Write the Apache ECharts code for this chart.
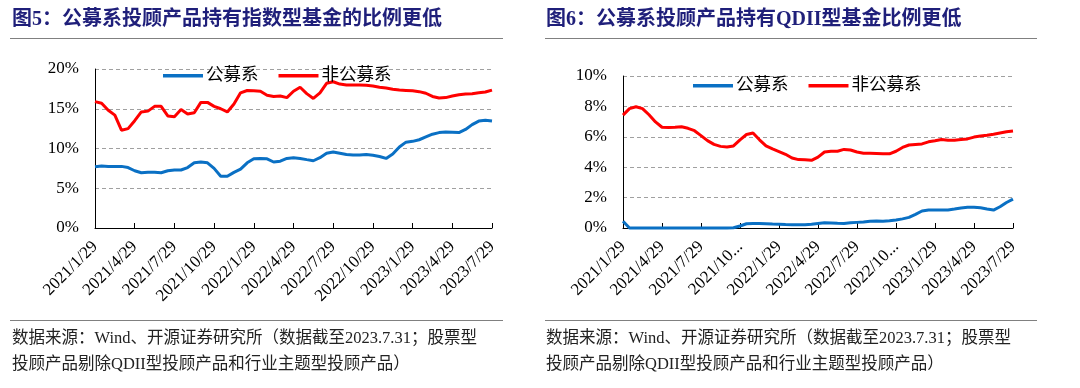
<!DOCTYPE html>
<html>
<head>
<meta charset="utf-8">
<script src="https://cdn.jsdelivr.net/npm/echarts@6/dist/echarts.min.js"></script>
<style>
html,body{margin:0;padding:0;background:#fff;}
#c{width:1080px;height:388px;}
</style>
</head>
<body>
<div id="c"></div>
<script>
// ---- data ----
const categories = [
 "2021/1/29","2021/2/13","2021/2/28","2021/3/14","2021/3/29","2021/4/13",
 "2021/4/29","2021/5/14","2021/5/29","2021/6/13","2021/6/29","2021/7/14",
 "2021/7/29","2021/8/13","2021/8/29","2021/9/13","2021/9/29","2021/10/14",
 "2021/10/29","2021/11/13","2021/11/29","2021/12/14","2021/12/29","2022/1/13",
 "2022/1/29","2022/2/13","2022/2/28","2022/3/14","2022/3/29","2022/4/13",
 "2022/4/29","2022/5/14","2022/5/29","2022/6/13","2022/6/29","2022/7/14",
 "2022/7/29","2022/8/13","2022/8/29","2022/9/13","2022/9/29","2022/10/14",
 "2022/10/29","2022/11/13","2022/11/29","2022/12/14","2022/12/29","2023/1/13",
 "2023/1/29","2023/2/13","2023/2/28","2023/3/14","2023/3/29","2023/4/13",
 "2023/4/29","2023/5/14","2023/5/29","2023/6/13","2023/6/29","2023/7/14",
 "2023/7/29"
];
const seriesNames = ["公募系", "非公募系"];

// Fig 5: share of index funds (%)
const idxPublic = [
 7.7,7.8,7.75,7.75,7.75,7.6,7.2,6.95,7.0,7.0,6.95,7.2,7.3,7.3,7.6,8.2,8.3,8.2,7.5,6.5,
 6.5,7.0,7.4,8.2,8.7,8.75,8.7,8.3,8.4,8.75,8.85,8.75,8.6,8.46,8.85,9.4,9.55,9.4,9.25,9.17,
 9.17,9.25,9.15,9.0,8.75,9.3,10.2,10.8,10.9,11.1,11.45,11.8,12.0,12.08,12.05,12.0,12.4,13.0,13.45,13.55,
 13.45
];
const idxNonPublic = [
 15.9,15.7,14.8,14.2,12.3,12.5,13.5,14.6,14.7,15.3,15.3,14.1,14.0,14.9,14.35,14.5,15.8,15.8,15.3,15.0,
 14.6,15.6,17.0,17.3,17.25,17.2,16.7,16.55,16.6,16.4,17.2,17.7,16.9,16.3,17.0,18.2,18.4,18.1,18.0,18.0,
 18.0,17.95,17.85,17.7,17.6,17.45,17.35,17.3,17.25,17.15,16.95,16.55,16.35,16.4,16.6,16.75,16.85,16.9,17.0,17.1,
 17.35
];
// Fig 6: share of QDII funds (%)
const qdiiPublic = [
 0.45,0.0,0.0,0.0,0.0,0.0,0.0,0.0,0.0,0.0,0.0,0.0,0.0,0.0,0.0,0.0,0.0,0.02,0.13,0.28,
 0.3,0.3,0.28,0.26,0.25,0.23,0.22,0.22,0.22,0.25,0.3,0.35,0.33,0.31,0.3,0.34,0.37,0.4,0.45,0.46,
 0.44,0.47,0.53,0.6,0.7,0.9,1.12,1.18,1.18,1.18,1.19,1.25,1.32,1.36,1.37,1.33,1.25,1.18,1.4,1.68,
 1.9
];
const qdiiNonPublic = [
 7.43,7.85,7.98,7.85,7.45,6.98,6.63,6.62,6.63,6.66,6.56,6.4,6.08,5.75,5.5,5.37,5.33,5.4,5.8,6.15,
 6.25,5.8,5.4,5.2,5.03,4.85,4.6,4.5,4.49,4.45,4.66,5.0,5.05,5.05,5.17,5.13,5.0,4.92,4.92,4.9,
 4.88,4.88,5.05,5.3,5.46,5.5,5.53,5.67,5.74,5.82,5.77,5.78,5.82,5.86,5.98,6.05,6.1,6.17,6.25,6.33,
 6.38
];

const title5 = "图5：公募系投顾产品持有指数型基金的比例更低";
const title6 = "图6：公募系投顾产品持有QDII型基金比例更低";
const source1 = "数据来源：Wind、开源证券研究所（数据截至2023.7.31；股票型";
const source2 = "投顾产品剔除QDII型投顾产品和行业主题型投顾产品）";

// ---- styling ----
const SERIF = '"Liberation Serif","Times New Roman","Noto Sans CJK SC",serif';
const CJK = '"Liberation Serif","Noto Sans CJK SC",sans-serif';
const BLUE = '#0a70c4';
const RED = '#ff0000';
const NAVY = '#1f1f7a';

function xAxis(gridIndex, truncate) {
  return {
    type: 'category', gridIndex, data: categories, boundaryGap: false,
    axisLine: {lineStyle: {color: '#000', width: 1}},
    axisTick: {show: true, inside: true, interval: 5, length: 5, lineStyle: {color: '#000'}},
    axisLabel: Object.assign({
      interval: 5, rotate: 45, margin: 16, color: '#000',
      fontFamily: SERIF, fontSize: 17
    }, truncate ? {width: 72, overflow: 'truncate', ellipsis: '...'} : {})
  };
}
function yAxis(gridIndex, max, interval) {
  return {
    type: 'value', gridIndex, min: 0, max, interval,
    axisLine: {show: true, lineStyle: {color: '#000', width: 1}},
    axisTick: {show: false},
    splitLine: {show: true, lineStyle: {color: '#a0a0a0', type: [4, 3], width: 1}},
    axisLabel: {formatter: '{value}%', color: '#000', fontFamily: SERIF, fontSize: 17, margin: 16}
  };
}
function line(name, data, color, idx) {
  return {
    name, type: 'line', data, xAxisIndex: idx, yAxisIndex: idx,
    symbol: 'none', showSymbol: false, smooth: false,
    lineStyle: {color, width: 3}, itemStyle: {color}, clip: false
  };
}
function legend(left, top) {
  return {
    data: seriesNames.map(n => ({name: n, icon: 'rect'})),
    left, top, itemWidth: 40, itemHeight: 3.5, itemGap: 20,
    selectedMode: false,
    textStyle: {fontFamily: CJK, fontSize: 17.5, color: '#000', padding: [0, 0, 0, -2]}
  };
}

const chart = echarts.init(document.getElementById('c'), null, {renderer: 'canvas'});
chart.setOption({
  animation: false,
  backgroundColor: '#fff',
  grid: [
    {left: 95, right: 588, top: 69, bottom: 160},
    {left: 623, right: 67, top: 76, bottom: 160}
  ],
  xAxis: [xAxis(0, false), xAxis(1, true)],
  yAxis: [yAxis(0, 20, 5), yAxis(1, 10, 2)],
  legend: [legend(158, 62), legend(688, 72)],
  series: [
    line(seriesNames[0], idxPublic, BLUE, 0),
    line(seriesNames[1], idxNonPublic, RED, 0),
    line(seriesNames[0], qdiiPublic, BLUE, 1),
    line(seriesNames[1], qdiiNonPublic, RED, 1)
  ],
  graphic: [
    {type: 'text', left: 12, top: 10, style: {text: title5, font: 'bold 20px ' + CJK, fill: NAVY}},
    {type: 'text', left: 546, top: 10, style: {text: title6, font: 'bold 20px ' + CJK, fill: NAVY}},
    {type: 'line', shape: {x1: 10, y1: 38.5, x2: 503, y2: 38.5}, style: {stroke: '#808080', lineWidth: 1}},
    {type: 'line', shape: {x1: 545, y1: 38.5, x2: 1037, y2: 38.5}, style: {stroke: '#808080', lineWidth: 1}},
    {type: 'line', shape: {x1: 10, y1: 320.5, x2: 503, y2: 320.5}, style: {stroke: '#808080', lineWidth: 1}},
    {type: 'line', shape: {x1: 545, y1: 320.5, x2: 1037, y2: 320.5}, style: {stroke: '#808080', lineWidth: 1}},
    {type: 'text', left: 12, top: 330, style: {text: source1, font: '16.5px ' + CJK, fill: '#222'}},
    {type: 'text', left: 12, top: 356, style: {text: source2, font: '16.5px ' + CJK, fill: '#222'}},
    {type: 'text', left: 546, top: 330, style: {text: source1, font: '16.5px ' + CJK, fill: '#222'}},
    {type: 'text', left: 546, top: 356, style: {text: source2, font: '16.5px ' + CJK, fill: '#222'}}
  ]
});
</script>
</body>
</html>
